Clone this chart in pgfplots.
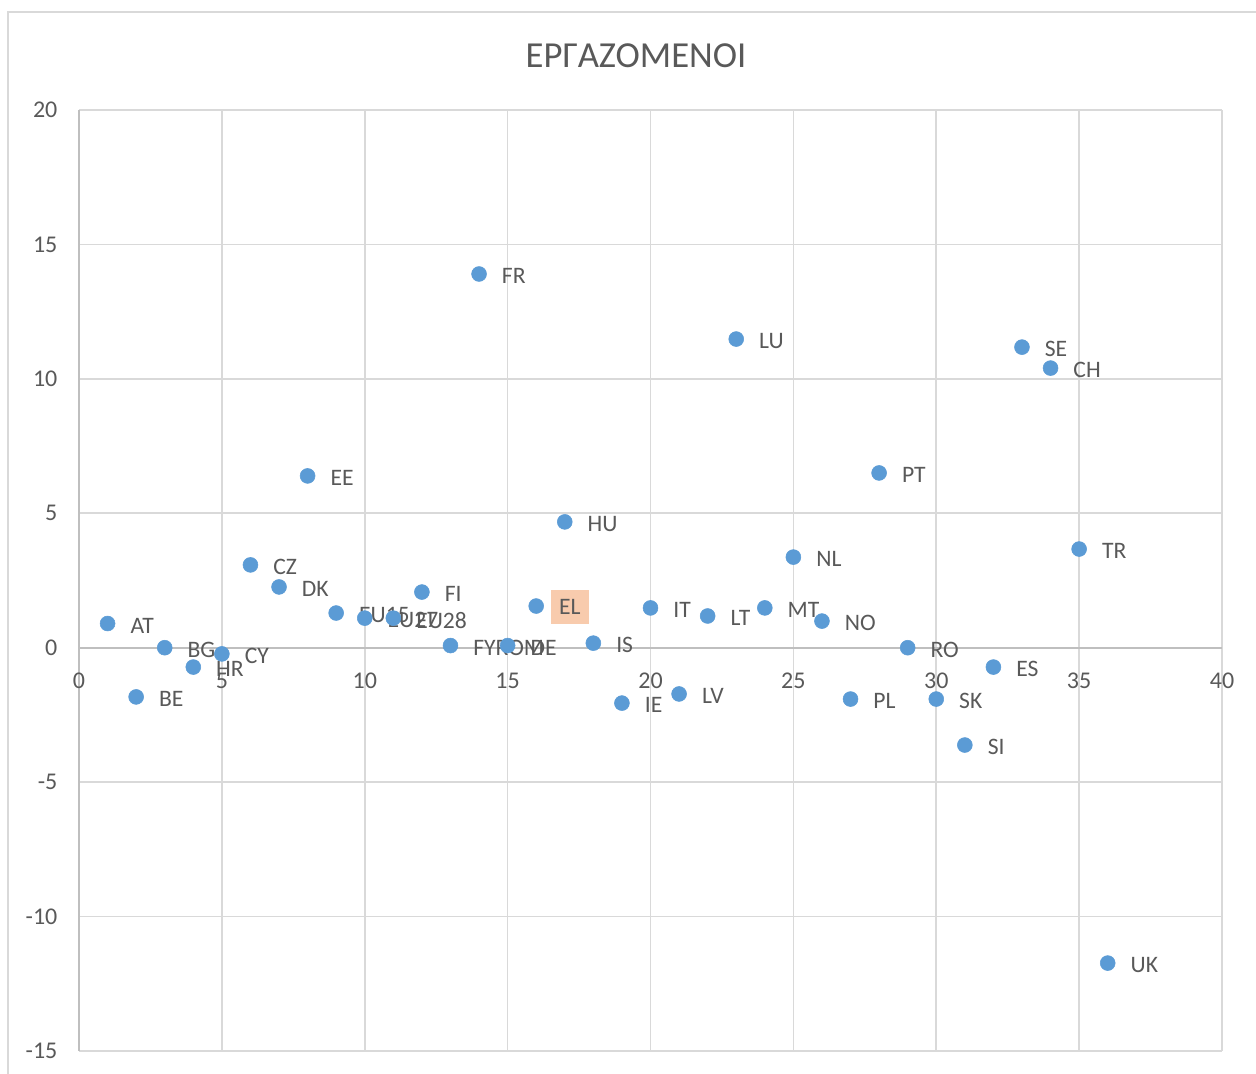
\documentclass[border=0pt]{standalone}
\usepackage{fontspec}
\setmainfont{Carlito}
\usepackage{pgfplots}
\usepackage{pgfplotstable}
\pgfplotsset{compat=1.18}
\definecolor{ptc}{HTML}{5B9BD5}
\definecolor{txt}{HTML}{595959}
\definecolor{grd}{HTML}{D9D9D9}
\definecolor{axc}{HTML}{BFBFBF}
\definecolor{elfill}{HTML}{F8CBAD}
\pgfplotstableread{
x y lab
1 0.9 AT
2 -1.83 BE
3 0 BG
4 -0.72 HR
5 -0.23 CY
6 3.08 CZ
7 2.26 DK
8 6.39 EE
9 1.29 EU15
10 1.1 EU27
11 1.1 EU28
12 2.07 FI
13 0.08 FYROM
14 13.9 FR
15 0.08 DE
17 4.68 HU
18 0.17 IS
19 -2.06 IE
20 1.48 IT
21 -1.72 LV
22 1.18 LT
23 11.48 LU
24 1.48 MT
25 3.37 NL
26 0.99 NO
27 -1.91 PL
28 6.5 PT
29 0 RO
30 -1.91 SK
31 -3.62 SI
32 -0.72 ES
33 11.18 SE
34 10.4 CH
35 3.67 TR
36 -11.73 UK
}\data
\pgfplotstableread{
x y lab
16 1.55 EL
}\dataEL
\begin{document}
\begin{tikzpicture}
\useasboundingbox (0,0) rectangle (942pt,805.5pt);
\draw[grd, line width=1.2pt] (6pt,0) -- (6pt,796.5pt) -- (942pt,796.5pt);
\node[text=txt, font=\fontsize{27.5}{30}\selectfont] at (477pt,764pt) {ΕΡΓΑΖΟΜΕΝΟΙ};
\begin{axis}[
  at={(59.25pt,17.25pt)}, anchor=south west,
  scale only axis, width=857.25pt, height=705.75pt,
  xmin=0, xmax=40, ymin=-15, ymax=20,
  xtick={0,5,...,40}, ytick={-15,-10,...,20},
  axis x line=middle, axis y line=left,
  axis line style={-, draw=axc, line width=1.2pt},
  grid=major, grid style={draw=grd, line width=1.2pt},
  major tick length=0pt,
  hide obscured x ticks=false, hide obscured y ticks=false,
  /pgf/number format/assume math mode=true,
  tick label style={font=\fontsize{18}{20}\selectfont, text=txt},
  xticklabel style={anchor=north, inner sep=0pt, yshift=-18.5pt},
  yticklabel style={anchor=east, inner sep=0pt, xshift=-16pt},
  clip=false,
  axis on top=false,
]
\addplot[only marks, mark=*, mark size=5.6pt, mark options={draw=ptc, fill=ptc},
  nodes near coords, point meta=explicit symbolic,
  every node near coord/.append style={anchor=west, inner sep=0pt, xshift=17pt, yshift=-1.5pt,
    font=\fontsize{17.7}{20}\selectfont, text=txt}]
  table[x=x, y=y, meta=lab]{\data};
\addplot[only marks, mark=*, mark size=5.6pt, mark options={draw=ptc, fill=ptc},
  nodes near coords, point meta=explicit symbolic,
  every node near coord/.append style={anchor=west, fill=elfill, inner xsep=6pt, inner ysep=7pt, xshift=11pt, yshift=-1pt,
    font=\fontsize{17.7}{20}\selectfont, text=txt}]
  table[x=x, y=y, meta=lab]{\dataEL};
\end{axis}
\end{tikzpicture}
\end{document}
